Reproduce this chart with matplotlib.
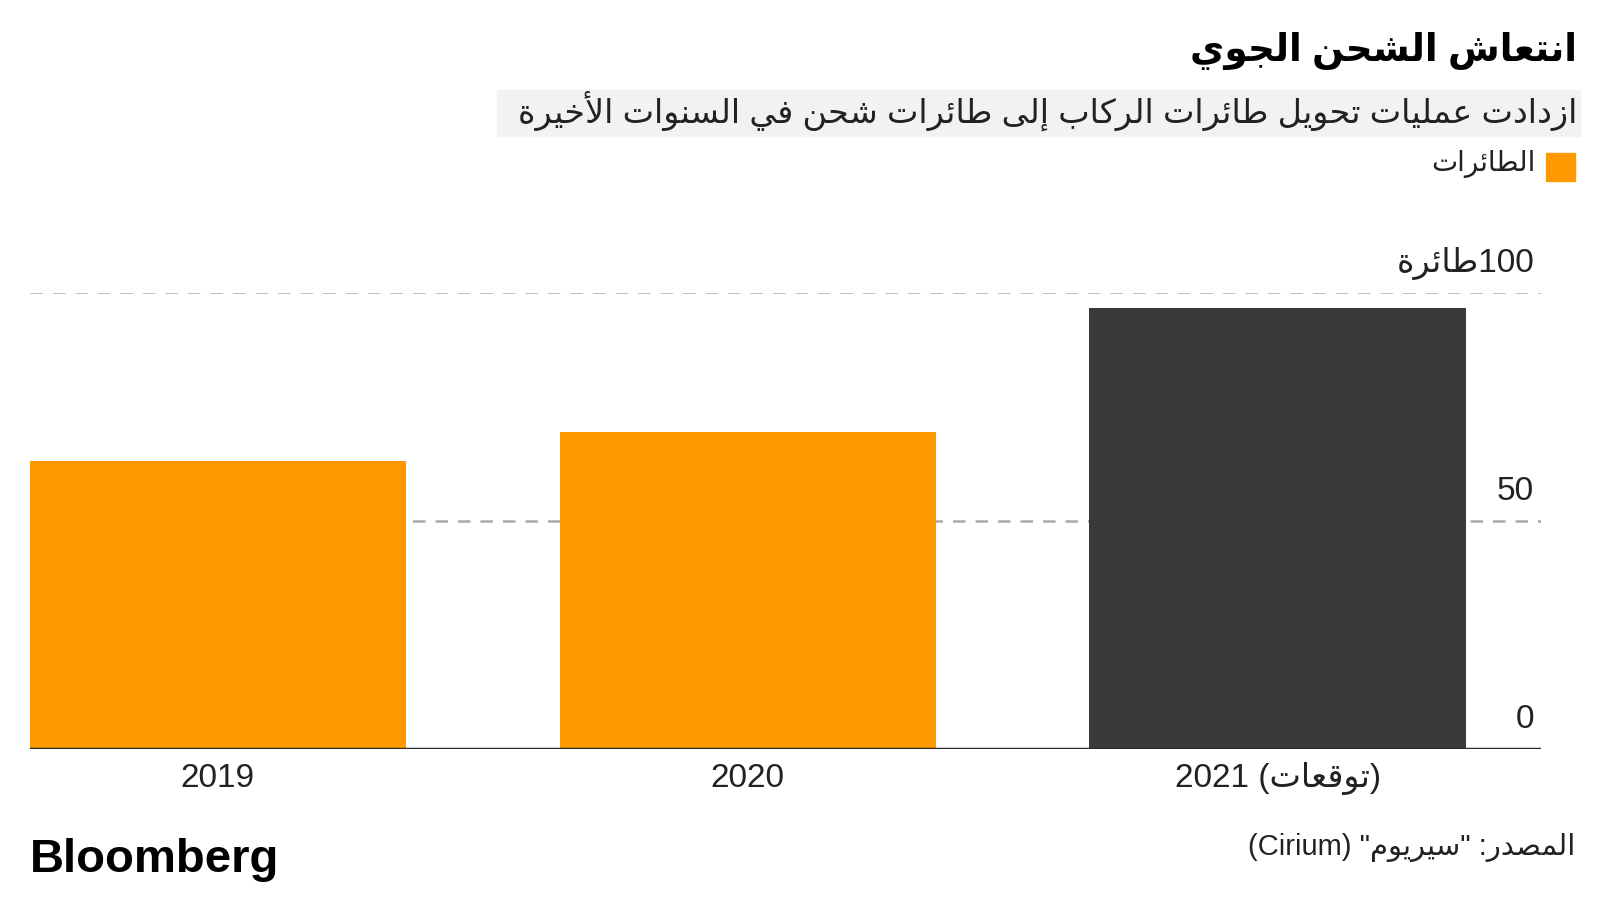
import matplotlib
matplotlib.use('Agg')
import matplotlib.pyplot as plt
from matplotlib.patches import Rectangle

# Arabic letters -> (isolated presentation form, number of forms)
FORMS = {
    'ء': (0xFE80, 1), 'آ': (0xFE81, 2), 'أ': (0xFE83, 2), 'ؤ': (0xFE85, 2), 'إ': (0xFE87, 2),
    'ئ': (0xFE89, 4), 'ا': (0xFE8D, 2), 'ب': (0xFE8F, 4), 'ة': (0xFE93, 2), 'ت': (0xFE95, 4),
    'ث': (0xFE99, 4), 'ج': (0xFE9D, 4), 'ح': (0xFEA1, 4), 'خ': (0xFEA5, 4), 'د': (0xFEA9, 2),
    'ذ': (0xFEAB, 2), 'ر': (0xFEAD, 2), 'ز': (0xFEAF, 2), 'س': (0xFEB1, 4), 'ش': (0xFEB5, 4),
    'ص': (0xFEB9, 4), 'ض': (0xFEBD, 4), 'ط': (0xFEC1, 4), 'ظ': (0xFEC5, 4), 'ع': (0xFEC9, 4),
    'غ': (0xFECD, 4), 'ف': (0xFED1, 4), 'ق': (0xFED5, 4), 'ك': (0xFED9, 4), 'ل': (0xFEDD, 4),
    'م': (0xFEE1, 4), 'ن': (0xFEE5, 4), 'ه': (0xFEE9, 4), 'و': (0xFEED, 2), 'ى': (0xFEEF, 2),
    'ي': (0xFEF1, 4),
}
LAM_ALEF = {'آ': 0xFEF5, 'أ': 0xFEF7, 'إ': 0xFEF9, 'ا': 0xFEFB}


def ar(text):
    # matplotlib does no shaping: pick joined forms and reverse into visual order
    out = []
    prev_joins = False
    i = 0
    while i < len(text):
        c = text[i]
        nxt = text[i + 1] if i + 1 < len(text) else ''
        if c == 'ل' and nxt in LAM_ALEF:
            out.append(chr(LAM_ALEF[nxt] + (1 if prev_joins else 0)))
            prev_joins = False
            i += 2
            continue
        if c not in FORMS:
            out.append(c)
            prev_joins = False
            i += 1
            continue
        base, n = FORMS[c]
        joins_next = n == 4 and nxt in FORMS and FORMS[nxt][1] > 1
        if n == 1:
            form = 0
        elif prev_joins and joins_next:
            form = 3
        elif prev_joins:
            form = 1
        elif joins_next:
            form = 2
        else:
            form = 0
        out.append(chr(base + form))
        prev_joins = joins_next
        i += 1
    return ''.join(reversed(out))


# data
years = ['2019', '2020', '2021 (' + ar('توقعات') + ')']
planes = [63, 69.5, 96.5]
barColors = ['#FF9900', '#FF9900', '#3A3A3A']
yticks = [0, 50, 100]
ytickLabels = ['0', '50', ar('طائرة') + '100']

title = ar('انتعاش الشحن الجوي')
subtitle = ar('ازدادت عمليات تحويل طائرات الركاب إلى طائرات شحن في السنوات الأخيرة')
legendLabel = ar('الطائرات')
source = '(Cirium) "' + ar('سيريوم') + '" :' + ar('المصدر')

plt.rcParams['font.family'] = ['Liberation Sans', 'DejaVu Sans']

fig = plt.figure(figsize=(16, 9), dpi=100)
W, H = 1600.0, 900.0

ax = fig.add_axes([29.6 / W, 1 - 748.5 / H, (1541 - 29.6) / W, (748.5 - 292.5) / H])
x = list(range(len(years)))
ax.bar(x, planes, width=0.71, color=barColors, zorder=3)
ax.set_xlim(-0.355, 2.497)
ax.set_ylim(0, 100)

# dashed gridlines + baseline
for t in yticks[1:]:
    ax.axhline(t, color='#AAAAAA', lw=1.8, dashes=(5, 4), zorder=1)
ax.axhline(0, color='#2B2B2B', lw=2.5, zorder=4)

for t, lab in zip(yticks, ytickLabels):
    ax.text(0.9955, t + 6.3, lab, transform=ax.get_yaxis_transform(), ha='right', va='center',
            fontsize=24, color='#222222', clip_on=False)

for xi, lab in zip(x, years):
    ax.text(xi, -6.6, lab, ha='center', va='center', fontsize=24, color='#222222', clip_on=False)

ax.set_xticks([])
ax.set_yticks([])
for s in ax.spines.values():
    s.set_visible(False)

# header
fig.text(1577 / W, 1 - 51 / H, title, ha='right', va='center', fontsize=27, fontweight='bold',
         color='#000000')
fig.patches.append(Rectangle((497 / W, 1 - 136 / H), (1580 - 497) / W, 46 / H,
                             transform=fig.transFigure, color='#F2F2F2', zorder=0))
fig.text(1577 / W, 1 - 111 / H, subtitle, ha='right', va='center', fontsize=24, color='#222222')
fig.patches.append(Rectangle((1546 / W, 1 - 181 / H), 29 / W, 28 / H,
                             transform=fig.transFigure, color='#FF9900'))
fig.text(1536 / W, 1 - 164 / H, legendLabel, ha='right', va='center', fontsize=20, color='#222222')

# footer
fig.text(29.6 / W, 1 - 860 / H, 'Bloomberg', ha='left', va='center', fontsize=34,
         fontweight='bold', color='#000000')
fig.text(1575 / W, 1 - 847 / H, source, ha='right', va='center', fontsize=21, color='#222222')

fig.savefig('out.png', dpi=100)
